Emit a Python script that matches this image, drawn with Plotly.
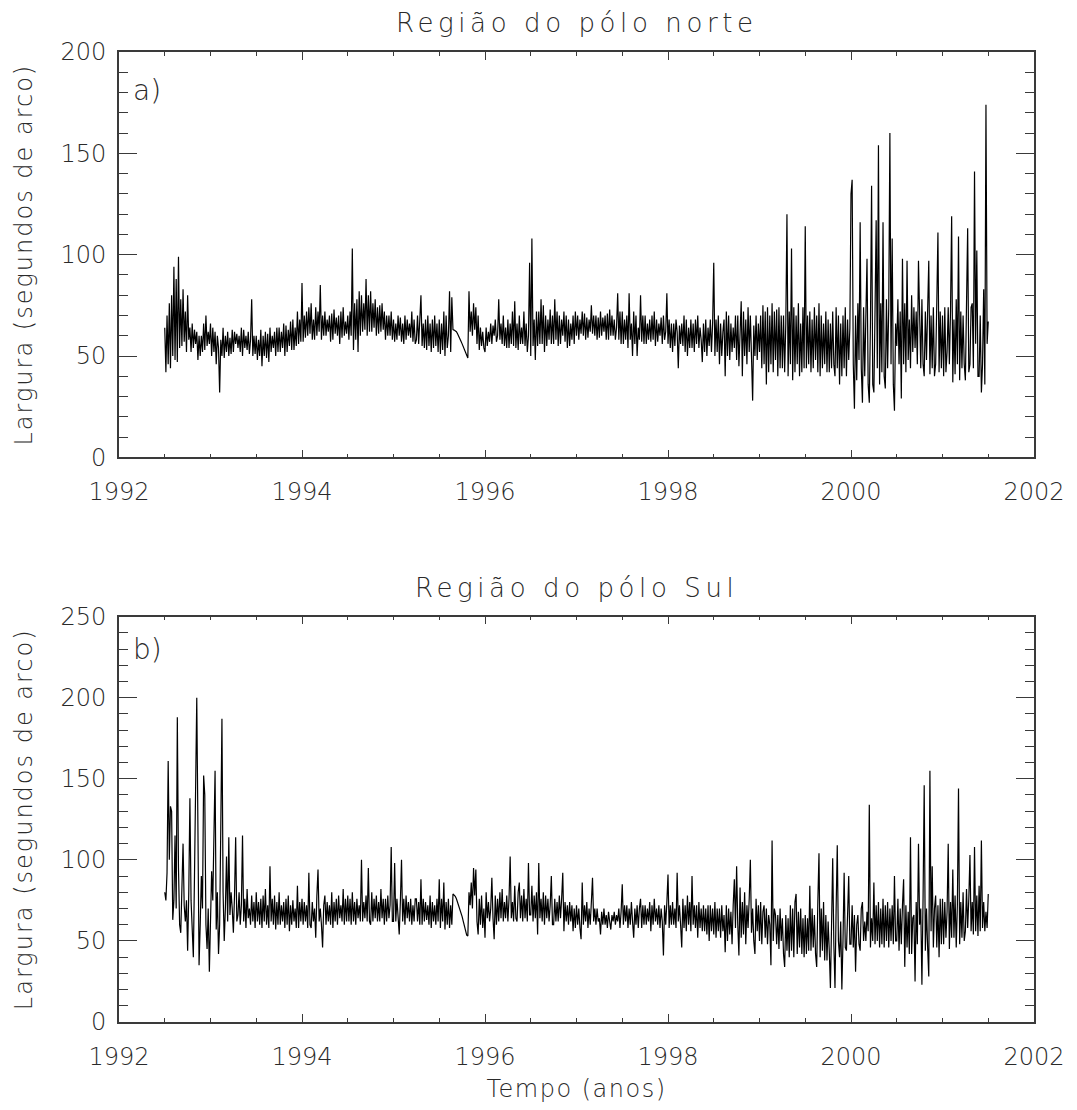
import numpy as np
import plotly.graph_objects as go

# ---------------- data ----------------
# one row per quarter year, starting 1992.5; samples every 0.0125 year
start_year = 1992.5
row_span = 0.25
step_year = 0.0125

north_rows = [
    [64, 42, 70, 46, 76, 44, 80, 50, 94, 48, 88, 47, 99, 54, 78, 55, 83, 57, 72, 52],
    [80, 58, 64, 52, 66, 54, 63, 56, 62, 48, 60, 50, 60, 52, 66, 53, 70, 55, 62, 56],
    [66, 50, 64, 52, 62, 46, 60, 54, 32, 58, 50, 64, 49, 60, 52, 62, 50, 59, 51, 63],
    [52, 62, 56, 61, 54, 60, 52, 64, 50, 63, 54, 60, 53, 62, 51, 58, 78, 50, 60, 51],
    [60, 48, 58, 50, 63, 45, 60, 50, 62, 49, 61, 47, 64, 52, 60, 54, 62, 50, 64, 52],
    [64, 52, 62, 54, 66, 50, 65, 52, 63, 55, 67, 53, 68, 53, 64, 55, 72, 56, 68, 57],
    [86, 57, 70, 59, 72, 60, 74, 61, 76, 58, 68, 58, 74, 60, 72, 62, 85, 58, 70, 60],
    [72, 60, 68, 62, 70, 57, 71, 58, 73, 61, 69, 60, 70, 56, 72, 59, 74, 60, 67, 61],
    [70, 58, 72, 60, 103, 53, 76, 58, 78, 52, 82, 60, 80, 62, 76, 63, 88, 60, 80, 62],
    [82, 62, 76, 64, 78, 60, 74, 61, 75, 62, 76, 63, 72, 58, 70, 60, 70, 60, 72, 58],
    [68, 57, 66, 58, 70, 60, 69, 57, 66, 56, 70, 58, 68, 60, 66, 59, 72, 57, 68, 56],
    [58, 70, 56, 66, 80, 55, 66, 54, 68, 53, 70, 55, 66, 52, 68, 54, 70, 55, 66, 52],
    [68, 51, 66, 53, 72, 50, 70, 54, 60, 82, 52, 79, 63, 62.8, 62.5, 62, 61, 60, 58.5, 57.3],
    [56, 54.5, 53, 51.5, 50, 49, 82, 62, 72, 60, 76, 63, 74, 56, 70, 53, 64, 55, 62, 54],
    [52, 64, 55, 62, 57, 66, 56, 65, 60, 68, 57, 60, 78, 58, 66, 56, 70, 55, 64, 54],
    [68, 54, 66, 56, 72, 55, 77, 54, 66, 53, 70, 56, 64, 56, 72, 55, 66, 52, 60, 96],
    [50, 108, 55, 68, 48, 72, 55, 72, 56, 78, 56, 75, 52, 70, 55, 68, 58, 73, 56, 70],
    [56, 78, 58, 72, 55, 70, 56, 68, 60, 72, 57, 70, 54, 68, 55, 66, 58, 70, 56, 72],
    [60, 70, 58, 68, 61, 72, 60, 71, 58, 69, 59, 68, 62, 75, 61, 70, 60, 70, 58, 69],
    [59, 72, 60, 69, 62, 70, 58, 71, 58, 73, 60, 70, 60, 68, 58, 64, 81, 58, 72, 56],
    [72, 56, 68, 58, 70, 54, 81, 58, 66, 50, 72, 56, 70, 50, 64, 58, 80, 57, 70, 56],
    [70, 56, 66, 58, 68, 57, 70, 58, 72, 55, 68, 57, 66, 60, 69, 56, 70, 58, 62, 81],
    [56, 68, 54, 66, 52, 66, 55, 68, 62, 44, 65, 56, 66, 55, 70, 52, 68, 50, 64, 54],
    [68, 54, 66, 52, 68, 56, 70, 54, 64, 58, 47, 66, 52, 68, 50, 64, 55, 68, 52, 66],
    [96, 50, 68, 52, 70, 46, 66, 50, 62, 68, 40, 72, 50, 70, 48, 66, 52, 64, 54, 70],
    [48, 70, 45, 66, 77, 40, 72, 50, 68, 46, 74, 52, 70, 50, 28, 65, 50, 70, 48, 66],
    [52, 70, 44, 75, 46, 72, 36, 74, 42, 70, 46, 76, 42, 72, 48, 73, 40, 74, 44, 70],
    [44, 70, 42, 66, 120, 40, 72, 46, 103, 38, 74, 42, 70, 46, 76, 40, 66, 42, 74, 44],
    [114, 44, 70, 46, 72, 42, 68, 44, 74, 48, 70, 42, 76, 40, 70, 44, 66, 46, 72, 42],
    [68, 42, 66, 44, 72, 46, 40, 74, 44, 70, 36, 66, 40, 70, 44, 74, 40, 68, 48, 64],
    [130, 137, 46, 24, 70, 38, 76, 48, 116, 44, 27, 74, 40, 70, 98, 36, 27, 66, 134, 36],
    [32, 72, 117, 44, 154, 36, 76, 42, 116, 40, 34, 78, 44, 74, 160, 46, 108, 36, 23, 66],
    [55, 78, 46, 72, 29, 98, 46, 76, 42, 97, 48, 68, 44, 80, 52, 74, 54, 72, 46, 97],
    [60, 44, 78, 46, 40, 72, 48, 76, 97, 41, 70, 44, 74, 40, 46, 76, 111, 42, 72, 44],
    [70, 40, 74, 42, 52, 74, 46, 72, 119, 37, 68, 41, 78, 46, 109, 38, 72, 44, 70, 46],
    [38, 76, 113, 42, 46, 74, 76, 44, 141, 56, 102, 40, 40, 70, 32, 46, 83, 36, 174, 56, 67],
]

south_rows = [
    [80, 75, 92, 161, 100, 133, 130, 63, 75, 115, 70, 188, 95, 60, 55, 80, 110, 72, 62, 75],
    [44, 80, 138, 75, 55, 40, 90, 168, 200, 120, 35, 60, 90, 70, 152, 140, 60, 45, 70, 31],
    [60, 93, 75, 110, 155, 57, 80, 42, 60, 120, 187, 80, 50, 70, 102, 62, 114, 66, 80, 70],
    [55, 78, 114, 62, 66, 80, 60, 72, 115, 62, 76, 58, 82, 64, 70, 60, 78, 62, 74, 58],
    [80, 62, 74, 60, 76, 58, 78, 62, 82, 60, 72, 58, 96, 62, 76, 60, 78, 57, 74, 60],
    [80, 60, 72, 62, 74, 58, 76, 60, 78, 56, 72, 60, 75, 62, 70, 58, 84, 58, 74, 62],
    [76, 60, 74, 62, 72, 58, 92, 60, 58, 74, 62, 70, 52, 78, 94, 62, 70, 60, 46, 72],
    [78, 60, 74, 62, 72, 60, 80, 58, 74, 62, 76, 60, 78, 64, 72, 62, 82, 60, 76, 62],
    [78, 62, 76, 60, 80, 62, 74, 60, 76, 64, 72, 62, 100, 62, 74, 64, 78, 62, 95, 62],
    [60, 80, 62, 76, 64, 78, 62, 74, 62, 82, 64, 76, 60, 76, 62, 78, 64, 72, 108, 62],
    [62, 98, 62, 76, 66, 54, 74, 100, 62, 76, 60, 78, 64, 74, 62, 76, 60, 72, 62, 76],
    [76, 62, 74, 60, 88, 60, 76, 62, 74, 63, 72, 60, 78, 58, 74, 62, 72, 60, 76, 62],
    [88, 58, 76, 62, 86, 57, 74, 60, 76, 58, 72, 60, 79, 78.5, 77.5, 76, 74, 72, 70, 67.5],
    [65, 62, 59, 56, 53.5, 53, 80, 72, 86, 70, 95, 78, 94, 62, 54, 76, 60, 78, 58, 70],
    [52, 80, 64, 74, 62, 70, 89, 64, 51, 78, 60, 76, 62, 80, 64, 82, 62, 74, 64, 78],
    [62, 76, 102, 64, 74, 62, 84, 64, 62, 80, 86, 64, 78, 62, 82, 64, 76, 62, 98, 66],
    [66, 84, 62, 78, 64, 80, 54, 98, 64, 76, 62, 80, 60, 78, 64, 76, 62, 72, 90, 60],
    [60, 76, 62, 74, 62, 78, 64, 76, 92, 56, 74, 62, 72, 60, 74, 62, 72, 56, 70, 58],
    [72, 60, 70, 58, 51, 86, 60, 72, 62, 74, 58, 70, 60, 74, 89, 62, 70, 60, 70, 62],
    [64, 54, 68, 60, 70, 60, 66, 58, 68, 62, 57, 66, 62, 68, 60, 66, 62, 70, 58, 68],
    [85, 60, 72, 62, 72, 58, 70, 60, 74, 62, 52, 70, 60, 72, 58, 70, 76, 58, 72, 60],
    [72, 60, 70, 62, 74, 56, 72, 60, 76, 62, 70, 60, 72, 58, 70, 62, 41, 72, 60, 74],
    [91, 58, 72, 60, 74, 60, 70, 58, 92, 62, 72, 60, 46, 76, 58, 72, 56, 78, 60, 74],
    [56, 90, 60, 72, 58, 72, 52, 74, 58, 70, 56, 72, 56, 70, 54, 72, 50, 72, 56, 70],
    [54, 74, 52, 70, 56, 70, 52, 72, 56, 66, 43, 72, 50, 70, 54, 68, 48, 72, 88, 58],
    [96, 60, 41, 83, 52, 74, 54, 80, 48, 72, 58, 76, 100, 55, 70, 50, 42, 76, 56, 72],
    [50, 74, 48, 68, 72, 52, 70, 48, 66, 60, 35, 112, 50, 70, 66, 48, 66, 45, 70, 50],
    [64, 42, 34, 66, 44, 64, 40, 72, 44, 70, 40, 74, 79, 42, 68, 46, 70, 42, 64, 40],
    [66, 42, 64, 44, 84, 44, 70, 46, 66, 42, 34, 74, 104, 40, 70, 44, 74, 38, 66, 38],
    [62, 44, 21, 60, 101, 48, 21, 70, 109, 50, 40, 62, 20, 50, 92, 46, 44, 66, 90, 48],
    [48, 72, 46, 66, 31, 60, 66, 48, 44, 70, 74, 50, 62, 50, 68, 56, 134, 46, 64, 50],
    [86, 48, 72, 50, 74, 46, 70, 48, 76, 46, 72, 50, 74, 46, 70, 50, 72, 48, 90, 50],
    [50, 76, 44, 70, 48, 72, 88, 34, 72, 46, 68, 42, 114, 42, 64, 66, 25, 74, 48, 110],
    [60, 70, 23, 76, 146, 44, 70, 46, 28, 155, 56, 96, 46, 70, 78, 46, 72, 40, 76, 48],
    [76, 48, 74, 52, 68, 110, 45, 74, 52, 94, 52, 78, 46, 72, 144, 48, 74, 52, 80, 50],
    [56, 82, 58, 76, 103, 56, 74, 54, 108, 56, 78, 53, 84, 56, 112, 58, 74, 56, 68, 58, 79],
]

x_tick_vals = [1992, 1994, 1996, 1998, 2000, 2002]
x_tick_text = ["1992", "1994", "1996", "1998", "2000", "2002"]
y_tick_vals_n = [0, 50, 100, 150, 200]
y_tick_vals_s = [0, 50, 100, 150, 200, 250]

title_n = "Região do pólo norte"
title_s = "Região do pólo Sul"
y_title = "Largura (segundos de arco)"
x_title = "Tempo (anos)"
panel_a = "a)"
panel_b = "b)"


# ---------------- figure ----------------
def flatten(rows):
    t, v = [], []
    for k, row in enumerate(rows):
        for j, val in enumerate(row):
            t.append(start_year + k * row_span + j * step_year)
            v.append(val)
    return np.array(t), np.array(v, dtype=float)


t_n, north = flatten(north_rows)
t_s, south = flatten(south_rows)

FONT = "'DejaVu Sans', sans-serif"
TXT = "#2a2a2a"
AX = "#3a3a3a"


def spaced(s, px):
    return f'<span style="letter-spacing:{px}px">{s}</span>'


fig = go.Figure()
fig.add_trace(go.Scatter(x=t_n, y=north, mode="lines",
                         line=dict(color="black", width=1.2),
                         xaxis="x", yaxis="y", showlegend=False,
                         hoverinfo="skip"))
fig.add_trace(go.Scatter(x=t_s, y=south, mode="lines",
                         line=dict(color="black", width=1.2),
                         xaxis="x2", yaxis="y2", showlegend=False,
                         hoverinfo="skip"))

tickfont = dict(family=FONT, size=24, color=TXT, weight=200)


def xaxis_cfg(anchor, title=None):
    d = dict(anchor=anchor, range=[1992, 2002], tickmode="array",
             tickvals=x_tick_vals, ticktext=x_tick_text,
             showline=True, mirror="ticks", linecolor=AX, linewidth=1.6,
             ticks="inside", ticklen=8, tickwidth=1.2, tickcolor=AX,
             minor=dict(ticks="inside", ticklen=4, dtick=0.5,
                        tickwidth=1.2, tickcolor=AX, showgrid=False),
             showgrid=False, zeroline=False, tickfont=tickfont,
             ticklabelstandoff=12, domain=[0, 1])
    if title:
        d["title"] = dict(text=spaced(title, 1.5),
                          font=dict(family=FONT, size=24, color=TXT, weight=200),
                          standoff=11)
    return d


def yaxis_cfg(anchor, rng, vals, dom):
    return dict(anchor=anchor, range=rng, tickmode="array", tickvals=vals,
                showline=True, mirror="ticks", linecolor=AX, linewidth=1.6,
                ticks="inside", ticklen=18, tickwidth=1.2, tickcolor=AX,
                minor=dict(ticks="inside", ticklen=9, dtick=10,
                           tickwidth=1.2, tickcolor=AX, showgrid=False),
                showgrid=False, zeroline=False, tickfont=tickfont,
                ticklabelstandoff=6, domain=dom,
                title=dict(text=spaced(y_title, 2),
                           font=dict(family=FONT, size=24, color=TXT, weight=200),
                           standoff=21))


fig.update_layout(
    width=1077, height=1110,
    margin=dict(l=119, r=43, t=52, b=84),
    paper_bgcolor="white", plot_bgcolor="white",
    xaxis=xaxis_cfg("y"),
    yaxis=yaxis_cfg("x", [0, 200], y_tick_vals_n, [0.5821, 1.0]),
    xaxis2=xaxis_cfg("y2", x_title),
    yaxis2=yaxis_cfg("x2", [0, 250], y_tick_vals_s, [0.0, 0.4179]),
)

ann_font_title = dict(family=FONT, size=26, color=TXT, weight=200)
ann_font_panel = dict(family=FONT, size=28, color=TXT, weight=200)
fig.add_annotation(text=spaced(title_n, 4.6), xref="x domain", yref="y domain",
                   x=0.5, y=1, xanchor="center", yanchor="bottom", yshift=12,
                   showarrow=False, font=ann_font_title)
fig.add_annotation(text=spaced(title_s, 4.6), xref="x2 domain", yref="y2 domain",
                   x=0.5, y=1, xanchor="center", yanchor="bottom", yshift=12,
                   showarrow=False, font=ann_font_title)
fig.add_annotation(text=panel_a, xref="x domain", yref="y domain",
                   x=0, y=1, xanchor="left", yanchor="top", xshift=12, yshift=-20,
                   showarrow=False, font=ann_font_panel)
fig.add_annotation(text=panel_b, xref="x2 domain", yref="y2 domain",
                   x=0, y=1, xanchor="left", yanchor="top", xshift=12, yshift=-14,
                   showarrow=False, font=ann_font_panel)

fig.write_html("out.html")
